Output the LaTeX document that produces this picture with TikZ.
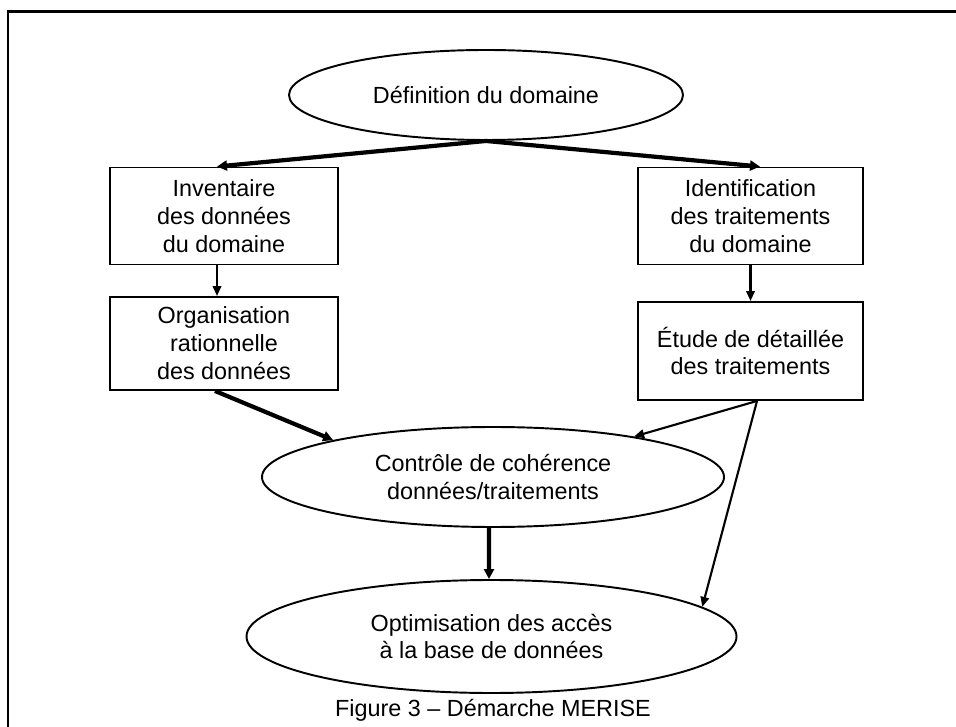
\documentclass[tikz,border=0pt]{standalone}
\usepackage{fontspec}
\setmainfont{Liberation Sans}
\usetikzlibrary{arrows.meta,shapes.geometric}

\tikzset{
	etape/.style={draw, line width=1.1pt, align=center, inner sep=0pt},
	bloc/.style={etape, rectangle},
	ovale/.style={etape, ellipse},
	fleche/.style={line width=1.2pt, -{Triangle[length=0.2cm, width=0.17cm]}},
	grossefleche/.style={line width=2.4pt, -{Triangle[length=0.2cm, width=0.2cm]}}
}

\begin{document}
\begin{tikzpicture}[font=\fontsize{13.3}{15.9}\selectfont]
		%%%%% START %%%%%
		\useasboundingbox (0, 0) rectangle (19.12, 14.52);
		
		% cadre
		\draw[line width=1.7pt] (0.16, -1) -- (0.16, 14.28) -- (20, 14.28);
		
		\node[ovale, minimum width=7.88cm, minimum height=1.8cm] (def) at (9.72, 12.62) {Définition du domaine};
		
		\node[bloc, minimum width=4.56cm, minimum height=1.94cm] (inv) at (4.48, 10.2) {Inventaire\\des données\\du domaine};
		\node[bloc, minimum width=4.5cm, minimum height=1.94cm] (ident) at (15.01, 10.2) {Identification\\des traitements\\du domaine};
		
		\node[bloc, minimum width=4.56cm, minimum height=1.86cm] (org) at (4.48, 7.65) {Organisation\\rationnelle\\des données};
		\node[bloc, minimum width=4.5cm, minimum height=1.96cm] (etude) at (15.01, 7.5) {Étude de détaillée\\des traitements};
		
		\node[ovale, minimum width=9.24cm, minimum height=2.0cm] (ctrl) at (9.86, 4.98) {Contrôle de cohérence\\données/traitements};
		\node[ovale, minimum width=9.8cm, minimum height=2.26cm] (opti) at (9.83, 1.79) {Optimisation des accès\\à la base de données};
		
		\node (legende) at (9.86, 0.32) {Figure 3 -- Démarche MERISE};
		
		% fleches
		\draw[grossefleche] (def.south) -- ([xshift=-0.14cm]inv.north);
		\draw[grossefleche] (def.south) -- ([xshift=0.19cm]ident.north);
		\draw[fleche] ([xshift=-0.14cm]inv.south) -- ([xshift=-0.14cm]org.north);
		\draw[fleche] (ident.south) -- (etude.north);
		\draw[grossefleche] ([xshift=-0.18cm]org.south) -- (ctrl.167);
		\draw[fleche] ([xshift=0.13cm]etude.south) -- (ctrl.16);
		\draw[fleche] ([xshift=0.13cm]etude.south) -- (opti.8.4);
		\draw[grossefleche] ([xshift=-0.08cm]ctrl.south) -- ([xshift=-0.05cm]opti.north);
		
		%%%%% END %%%%%
\end{tikzpicture}
\end{document}
